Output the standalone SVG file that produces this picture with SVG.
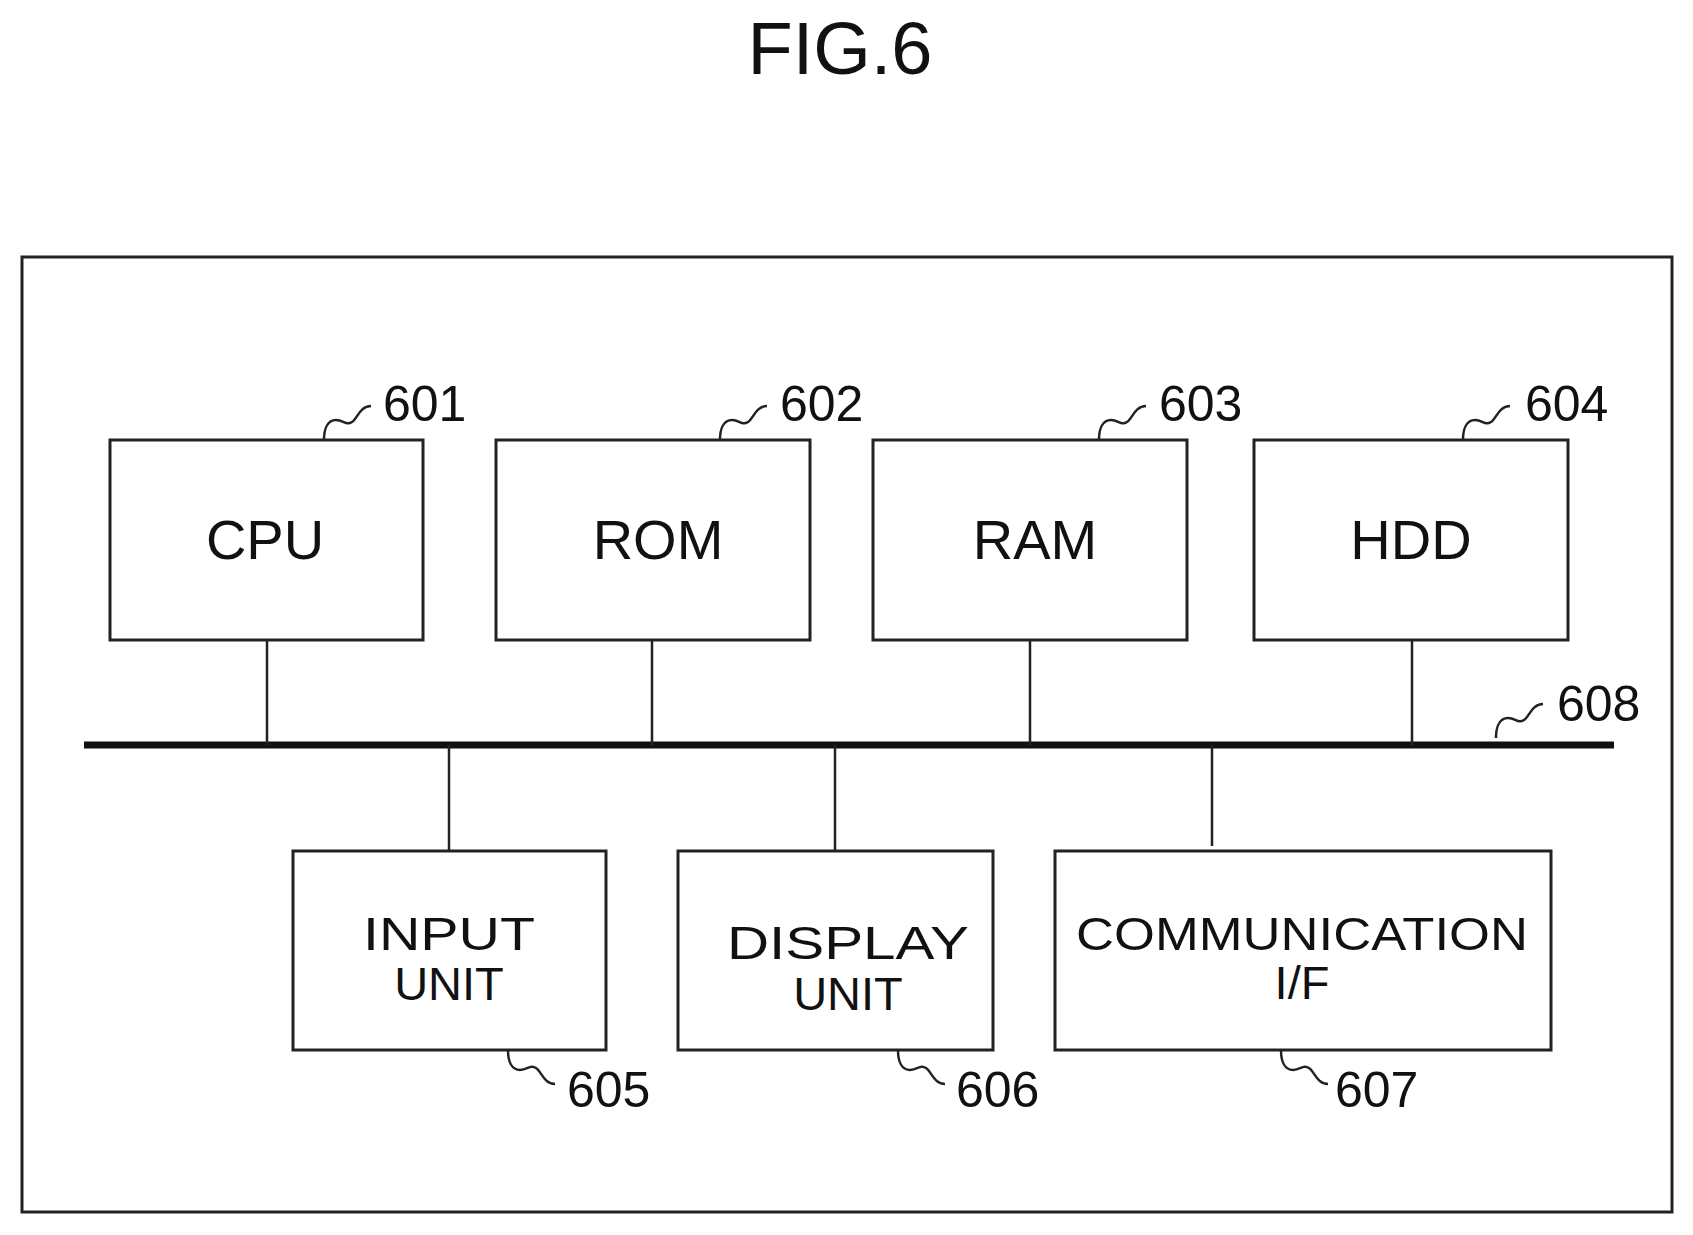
<svg xmlns="http://www.w3.org/2000/svg" width="1693" height="1235" viewBox="0 0 1693 1235">
<style>
text{font-family:"Liberation Sans",Arial,sans-serif;fill:#111}
.b{fill:#fff;stroke:#222;stroke-width:3}
.t{font-size:56px;text-anchor:middle}
.t2{font-size:47px;text-anchor:middle}
.n{font-size:50px}
.l{fill:none;stroke:#222;stroke-width:2.5}
</style>
<rect width="1693" height="1235" fill="#fff"/>
<text x="840" y="74" style="font-size:74px" text-anchor="middle">FIG.6</text>
<rect x="22" y="257" width="1650" height="955" fill="none" stroke="#222" stroke-width="3"/>
<g id="connectors">
<line x1="84" y1="745" x2="1614" y2="745" stroke="#111" stroke-width="7"/>
<path class="l" d="M267 640V745M652 640V745M1030 640V745M1412 640V745M449 745V851M835 745V851M1212 745V846"/>
</g>
<g id="cpu"><rect class="b" x="110" y="440" width="313" height="200"/><text class="t" x="265" y="559">CPU</text>
<path class="l" d="M324 440c0-12 4-20 12-20s10 6 16 2c5-3 8-16 19-16"/><text class="n" x="383" y="421">601</text></g>
<g id="rom"><rect class="b" x="496" y="440" width="314" height="200"/><text class="t" x="658" y="559">ROM</text>
<path class="l" d="M720 440c0-12 4-20 12-20s10 6 16 2c5-3 8-16 19-16"/><text class="n" x="780" y="421">602</text></g>
<g id="ram"><rect class="b" x="873" y="440" width="314" height="200"/><text class="t" x="1035" y="559">RAM</text>
<path class="l" d="M1099 440c0-12 4-20 12-20s10 6 16 2c5-3 8-16 19-16"/><text class="n" x="1159" y="421">603</text></g>
<g id="hdd"><rect class="b" x="1254" y="440" width="314" height="200"/><text class="t" x="1411" y="559">HDD</text>
<path class="l" d="M1463 440c0-12 4-20 12-20s10 6 16 2c5-3 8-16 19-16"/><text class="n" x="1525" y="421">604</text></g>
<g id="bus-label"><path class="l" d="M1496 738c0-12 4-20 12-20s10 6 16 2c5-3 8-16 19-16"/><text class="n" x="1557" y="721">608</text></g>
<g id="input"><rect class="b" x="293" y="851" width="313" height="199"/><text class="t2" x="449" y="950" textLength="172" lengthAdjust="spacingAndGlyphs">INPUT</text><text class="t2" x="449" y="1000">UNIT</text>
<path class="l" d="M508 1050c0 12 4 20 12 20s10-6 16-2c5 3 8 16 19 16"/><text class="n" x="567" y="1107">605</text></g>
<g id="display"><rect class="b" x="678" y="851" width="315" height="199"/><text class="t2" x="848" y="959" textLength="242" lengthAdjust="spacingAndGlyphs">DISPLAY</text><text class="t2" x="848" y="1010">UNIT</text>
<path class="l" d="M898 1050c0 12 4 20 12 20s10-6 16-2c5 3 8 16 19 16"/><text class="n" x="956" y="1107">606</text></g>
<g id="comm"><rect class="b" x="1055" y="851" width="496" height="199"/><text class="t2" x="1302" y="950" textLength="452" lengthAdjust="spacingAndGlyphs">COMMUNICATION</text><text class="t2" x="1302" y="999">I/F</text>
<path class="l" d="M1281 1050c0 12 4 20 12 20s10-6 16-2c5 3 8 16 19 16"/><text class="n" x="1335" y="1107">607</text></g>
</svg>
